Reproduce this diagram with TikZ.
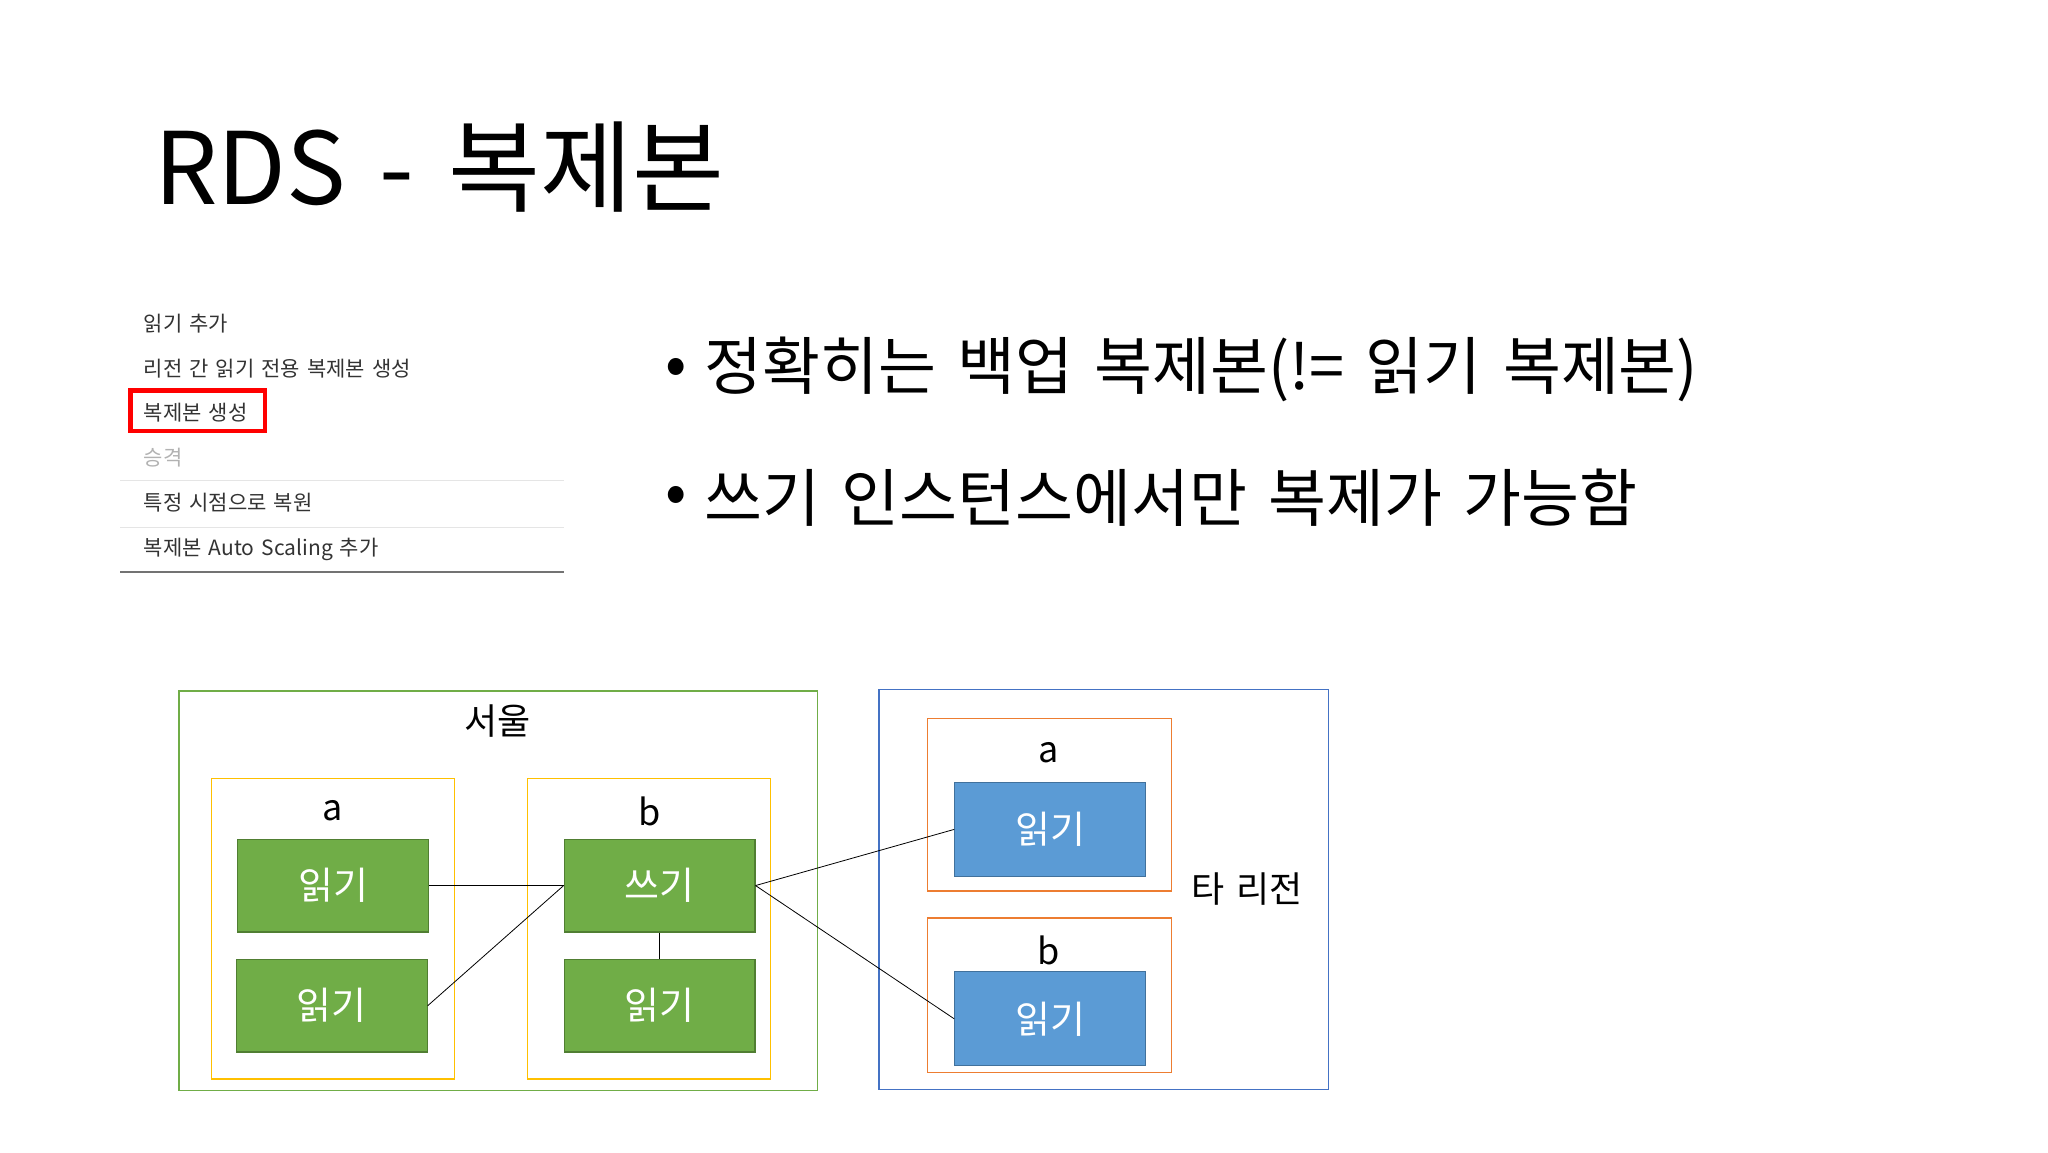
\documentclass[tikz,border=0pt]{standalone}
\usepackage{fontspec}
\setmainfont{Noto Sans CJK KR}
\newfontfamily\wide[WordSpace=2.0]{Noto Sans CJK KR}
\newfontfamily\tfont[WordSpace=1.5]{Noto Sans CJK KR}
\begin{document}
\begin{tikzpicture}[x=1.30612pt,y=-1.30612pt,
  menu/.style={anchor=west,font=\wide\fontsize{21}{23}\selectfont,text=black!80,inner sep=0},
  lbl/.style={font=\fontsize{38}{40}\selectfont,text=white},
  sml/.style={font=\wide\fontsize{36}{38}\selectfont},
  bul/.style={anchor=west,font=\wide\fontsize{63}{65}\selectfont,inner sep=0},
  conn/.style={draw=black,line width=0.8pt}]
\definecolor{gfill}{HTML}{70AD47}\definecolor{gdraw}{HTML}{507E32}
\definecolor{bfill}{HTML}{5B9BD5}\definecolor{bdraw}{HTML}{41719C}
\definecolor{yel}{HTML}{FFC000}\definecolor{ora}{HTML}{ED7D31}
\definecolor{outb}{HTML}{4472C4}
\tikzset{gbox/.style={draw=gdraw,fill=gfill,line width=1.2pt,minimum width=146*1.30612pt,minimum height=71*1.30612pt},
  bbox/.style={draw=bdraw,fill=bfill,line width=1.2pt,minimum width=146*1.30612pt,minimum height=72*1.30612pt}}
\useasboundingbox (0,0) rectangle (1568,882);
\fill[white] (0,0) rectangle (1568,882);
% title
\node[anchor=west,font=\tfont\fontsize{100}{104}\selectfont,inner sep=0] (title) at (118,128) {RDS - 복제본};
% menu
\node[menu] (m1) at (110,248) {읽기 추가};
\node[menu] (m2) at (110,282) {리전 간 읽기 전용 복제본 생성};
\node[menu] (m3) at (110,316) {복제본 생성};
\node[menu,text=black!30] (m4) at (110,350) {승격};
\node[menu] (m5) at (110,385) {특정 시점으로 복원};
\node[menu] (m6) at (110,421) {복제본 Auto Scaling 추가};
\draw[red,line width=4.5pt] (100,299) rectangle (203,330);
\draw[black!10,line width=1pt] (92,368) -- (432,368) (92,404) -- (432,404);
\draw[black!55,line width=1.5pt] (92,438) -- (432,438);
% bullets
\node[bul] (d1) at (509,285) {•};
\node[bul] (b1) at (539,283) {정확히는 백업 복제본(!= 읽기 복제본)};
\node[bul] (d2) at (509,383) {•};
\node[bul] (b2) at (539,381) {쓰기 인스턴스에서만 복제가 가능함};
% regions
\draw[gfill,line width=1.5pt] (137,529) rectangle (626,835);
\node[sml] (seoul) at (381,552) {서울};
\draw[yel,line width=1.5pt] (162,596) rectangle (348,826);
\node[sml] (la) at (255,621) {a};
\draw[yel,line width=1.5pt] (404,596) rectangle (590,826);
\node[sml] (lb) at (497,621) {b};
\draw[outb,line width=1.5pt] (673,528) rectangle (1017,834);
\node[sml] (other) at (955,681) {타 리전};
\draw[ora,line width=1.5pt] (710,550) rectangle (897,682);
\node[sml] (ra) at (803,576) {a};
\draw[ora,line width=1.5pt] (710,703) rectangle (897,821);
\node[sml] (rb) at (803,728) {b};
% instances
\node[gbox,lbl] (r1) at (255,678) {읽기};
\node[gbox,lbl] (r2) at (254,770) {읽기};
\node[gbox,lbl] (w) at (505,678) {쓰기};
\node[gbox,lbl] (r3) at (505,770) {읽기};
\node[bbox,lbl] (ba) at (804,635) {읽기};
\node[bbox,lbl] (bb) at (804,780) {읽기};
% connectors
\draw[conn] (r1.east) -- (w.west);
\draw[conn] (r2.east) -- (w.west);
\draw[conn] (w.south) -- (r3.north);
\draw[conn] (w.east) -- (ba.west);
\draw[conn] (w.east) -- (bb.west);
\end{tikzpicture}
\end{document}
